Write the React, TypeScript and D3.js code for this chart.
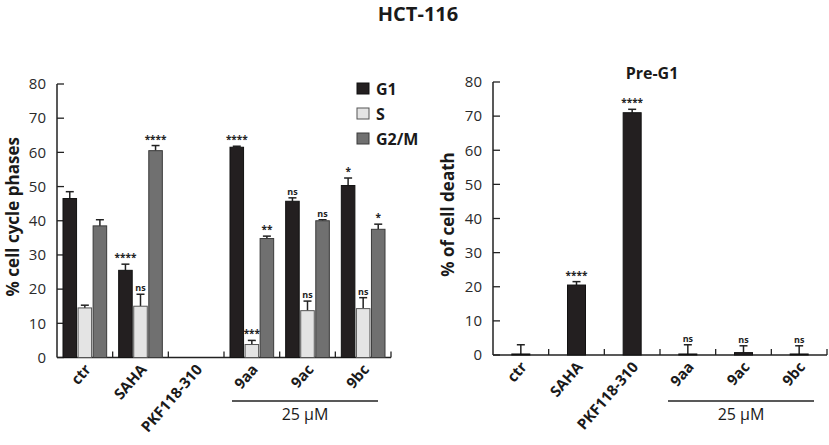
import * as d3 from 'd3'

const categories = ['ctr', 'SAHA', 'PKF118-310', '9aa', '9ac', '9bc']
const phases = ['G1', 'S', 'G2/M']

// cell cycle phases (% of cells), null = not measured
const g1Values = [46.5, 25.5, null, 61.5, 45.7, 50.3]
const g1Errors = [2.0, 1.8, null, 0.3, 1.0, 2.2]
const g1Sig = ['', '****', '', '****', 'ns', '*']
const sValues = [14.5, 15.0, null, 3.8, 13.7, 14.3]
const sErrors = [0.8, 3.5, null, 1.2, 2.8, 3.2]
const sSig = ['', 'ns', '', '***', 'ns', 'ns']
const g2mValues = [38.5, 60.5, null, 34.8, 40.0, 37.5]
const g2mErrors = [1.8, 1.5, null, 0.7, 0.3, 1.5]
const g2mSig = ['', '****', '', '**', 'ns', '*']

// Pre-G1 (% of cell death)
const preG1Values = [0.3, 20.5, 71.0, 0.3, 0.7, 0.3]
const preG1Errors = [2.7, 1.0, 1.0, 2.7, 2.0, 2.4]
const preG1Sig = ['', '****', '****', 'ns', 'ns', 'ns']

const yTicks = [0, 10, 20, 30, 40, 50, 60, 70, 80]
const dosedGroup = ['9aa', '9ac', '9bc']

const phaseFill: Record<string, string> = { G1: '#231f20', S: '#e4e4e4', 'G2/M': '#707070' }
const phaseStroke: Record<string, string> = { G1: '#111', S: '#555', 'G2/M': '#3a3a3a' }

const FONT = '"Open Sans", "Liberation Sans", sans-serif'

type Bar = { cat: string; key: string; value: number; err: number; sig: string }

function Axes({ x, y, label, labelX }: { x: d3.ScaleBand<string>; y: d3.ScaleLinear<number, number>; label: string; labelX: number }) {
  const [x0, x1] = x.range()
  const y0 = y(0)
  const bw = x.bandwidth()
  const dosed0 = x(dosedGroup[0])! + 8
  const dosed1 = x(dosedGroup[dosedGroup.length - 1])! + bw - 13
  return (
    <g>
      <line x1={x0} x2={x0} y1={y(80)} y2={y0} stroke="#222" strokeWidth={1.5} />
      <line x1={x0} x2={x1} y1={y0} y2={y0} stroke="#222" strokeWidth={1.5} />
      {yTicks.map((t) => (
        <g key={t}>
          <line x1={x0} x2={x0 + 7} y1={y(t)} y2={y(t)} stroke="#222" strokeWidth={1.3} />
          <text x={x0 - 11} y={y(t)} dy="0.35em" textAnchor="end" fontFamily={FONT} fontSize={15} fill="#2a2a2a">
            {t}
          </text>
        </g>
      ))}
      {categories.map((c) => (
        <line key={c} x1={x(c)! + bw} x2={x(c)! + bw} y1={y0} y2={y0 - 6} stroke="#222" strokeWidth={1.3} />
      ))}
      {categories.map((c) => {
        const cx = x(c)! + bw / 2 + 3
        const cy = y0 + 9
        return (
          <g key={c} transform={`translate(${cx},${cy})`}>
            <text transform="rotate(-49)" textAnchor="end" dy="0.35em"
              fontFamily={FONT} fontSize={15} fontWeight="bold" fill="#1a1a1a">
              {c}
            </text>
          </g>
        )
      })}
      <line x1={dosed0} x2={dosed1} y1={401} y2={401} stroke="#222" strokeWidth={1.5} />
      <text x={(dosed0 + dosed1) / 2} y={420} textAnchor="middle" fontFamily={FONT} fontSize={16} fill="#1a1a1a">
        25 µM
      </text>
      <text transform={`translate(${labelX},${(y(0) + y(80)) / 2 - 4}) rotate(-90)`} textAnchor="middle" dy="0.35em"
        fontFamily={FONT} fontSize={17} fontWeight="bold" fill="#1a1a1a">
        {label}
      </text>
    </g>
  )
}

function BarMarks({ bars, xPos, width, y }: { bars: Bar[]; xPos: (b: Bar) => number; width: number; y: d3.ScaleLinear<number, number> }) {
  return (
    <g>
      {bars.map((b, i) => {
        const bx = xPos(b)
        const cx = bx + width / 2
        const top = y(b.value + b.err)
        return (
          <g key={i}>
            <line x1={cx} x2={cx} y1={y(b.value)} y2={top} stroke="#222" strokeWidth={1.5} />
            <line x1={cx - 4} x2={cx + 4} y1={top} y2={top} stroke="#222" strokeWidth={1.5} />
            <rect x={bx} y={y(b.value)} width={width} height={y(0) - y(b.value)}
              fill={phaseFill[b.key]} stroke={phaseStroke[b.key]} strokeWidth={1} />
            {b.sig && (
              <text x={cx} y={top - 3} textAnchor="middle" fontFamily={FONT} fontSize={b.sig === 'ns' ? 9 : 10}
                fontWeight="bold" fill="#222">
                {b.sig}
              </text>
            )}
          </g>
        )
      })}
    </g>
  )
}

export default function App() {
  // left panel
  const xL = d3.scaleBand<string>().domain(categories).range([57, 391])
  const yL = d3.scaleLinear().domain([0, 80]).range([357.5, 84])
  const inner = d3.scaleBand<string>().domain(phases).range([6, xL.bandwidth() - 6]).paddingInner(0.1)

  const series: Record<string, [(number | null)[], (number | null)[], string[]]> = {
    G1: [g1Values, g1Errors, g1Sig],
    S: [sValues, sErrors, sSig],
    'G2/M': [g2mValues, g2mErrors, g2mSig],
  }
  const leftBars: Bar[] = []
  phases.forEach((p) => {
    const [vals, errs, sigs] = series[p]
    categories.forEach((c, i) => {
      if (vals[i] == null) return
      leftBars.push({ cat: c, key: p, value: vals[i] as number, err: errs[i] as number, sig: sigs[i] })
    })
  })

  // right panel
  const xR = d3.scaleBand<string>().domain(categories).range([493, 827])
  const yR = d3.scaleLinear().domain([0, 80]).range([355, 82])
  const rightBars: Bar[] = categories.map((c, i) => ({
    cat: c, key: 'G1', value: preG1Values[i], err: preG1Errors[i], sig: preG1Sig[i],
  }))
  const rightW = 18

  return (
    <svg width={829} height={445} style={{ position: 'absolute', left: 0, top: 0, background: '#fff' }}>
      <text x={418} y={21} textAnchor="middle" fontFamily={FONT} fontSize={20} fontWeight="bold" fill="#1a1a1a">
        HCT-116
      </text>

      <Axes x={xL} y={yL} label="% cell cycle phases" labelX={13} />
      <BarMarks bars={leftBars} xPos={(b) => xL(b.cat)! + inner(b.key)!} width={inner.bandwidth()} y={yL} />

      {phases.map((p, i) => (
        <g key={p} transform={`translate(357,${83 + i * 25})`}>
          <rect width={12} height={11} fill={phaseFill[p]} stroke={phaseStroke[p]} strokeWidth={1} />
          <text x={19} y={6} dy="0.35em" fontFamily={FONT} fontSize={16} fontWeight="bold" fill="#1a1a1a">
            {p}
          </text>
        </g>
      ))}

      <Axes x={xR} y={yR} label="% of cell death" labelX={448} />
      <BarMarks bars={rightBars} xPos={(b) => xR(b.cat)! + (xR.bandwidth() - rightW) / 2} width={rightW} y={yR} />
      <text x={652} y={79} textAnchor="middle" fontFamily={FONT} fontSize={16} fontWeight="bold" fill="#1a1a1a">
        Pre-G1
      </text>
    </svg>
  )
}
